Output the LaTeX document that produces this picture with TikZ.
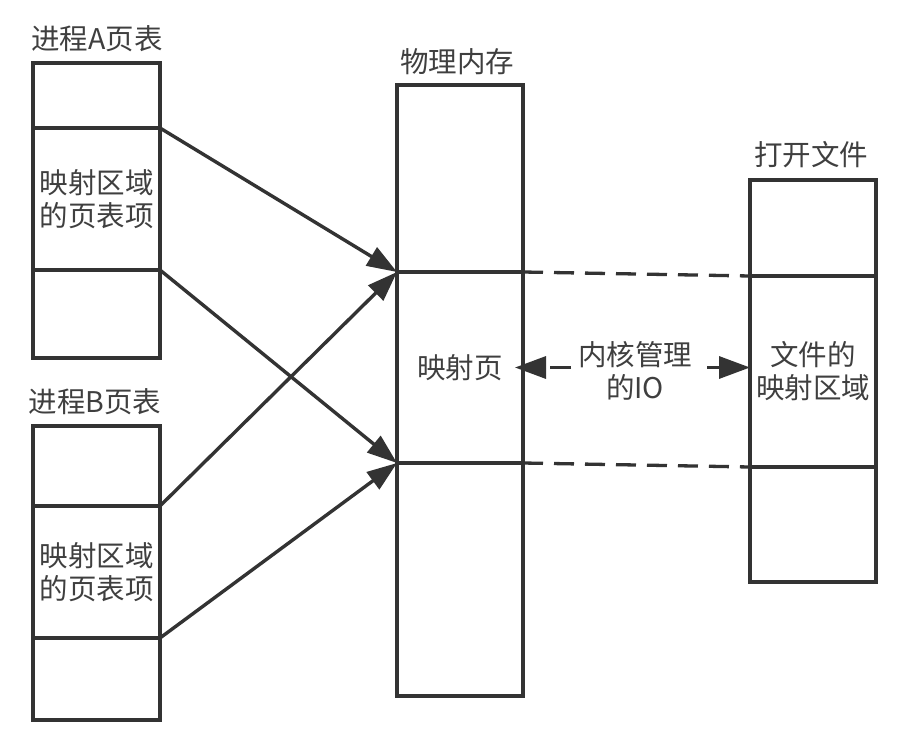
\documentclass[tikz,border=0pt]{standalone}
\usepackage{fontspec}
\setmainfont{Noto Sans CJK SC}
\usetikzlibrary{arrows.meta,positioning}
\definecolor{linegray}{HTML}{333333}
\definecolor{textgray}{HTML}{3F3F3F}

\tikzset{
Cell/.style={draw=linegray, rectangle, inner sep=0pt, outer sep=0pt,
        minimum width=127pt, line width=3.3pt, text=textgray, align=center,
        font=\fontsize{28.5}{33}\selectfont},
TableTittle/.style={text=textgray, inner sep=0pt, font=\fontsize{28.5}{33}\selectfont},
MapLine/.style={arrows={-Triangle[length=30pt,width=21pt]},draw=linegray,line width=3.4pt},
FileLine/.style={draw=linegray,line width=3.3pt,dash pattern=on 20pt off 11pt},
IOLine/.style={arrows={-Triangle[length=31pt,width=22pt]},draw=linegray,line width=3.3pt,dash pattern=on 21pt off 4pt},
}

\begin{document}
\begin{tikzpicture}[x=1pt,y=1pt]
	\useasboundingbox (0,0) rectangle (917,-738);
	% process page tables
	\node[Cell, minimum height=65pt]  (A1) at (96.5,-95.5) {};
	\node[Cell, minimum height=142pt] (A2) at (96.5,-199) {映射区域\\的页表项};
	\node[Cell, minimum height=88pt]  (A3) at (96.5,-314) {};
	\node[Cell, minimum height=80pt]  (B1) at (96.5,-466) {};
	\node[Cell, minimum height=132pt] (B2) at (96.5,-572) {映射区域\\的页表项};
	\node[Cell, minimum height=82pt]  (B3) at (96.5,-679) {};
	% physical memory
	\node[Cell, minimum width=126pt, minimum height=187pt] (M1) at (460,-178.5) {};
	\node[Cell, minimum width=126pt, minimum height=191pt] (M2) at (460,-367.5) {映射页};
	\node[Cell, minimum width=126pt, minimum height=233pt] (M3) at (460,-579.5) {};
	% opened file
	\node[Cell, minimum width=126pt, minimum height=96pt]  (F1) at (813,-228) {};
	\node[Cell, minimum width=126pt, minimum height=191pt] (F2) at (813,-371.5) {文件的\\映射区域};
	\node[Cell, minimum width=126pt, minimum height=115pt] (F3) at (813,-524.5) {};

	\node[TableTittle] (TA) at (97,-39)  {进程A页表};
	\node[TableTittle] (TB) at (95,-402) {进程B页表};
	\node[TableTittle] (TM) at (457,-62) {物理内存};
	\node[TableTittle] (TF) at (811,-155) {打开文件};

	\draw[MapLine] (A2.north east) -- (M2.north west);
	\draw[MapLine] (A2.south east) -- (M2.south west);
	\draw[MapLine] (B2.north east) -- (M2.north west);
	\draw[MapLine] (B2.south east) -- (M2.south west);

	\draw[FileLine] (M2.north east) -- (F2.north west);
	\draw[FileLine] (M2.south east) -- (F2.south west);

	\node[Cell, draw=none, minimum width=0pt, inner sep=2pt] (IO) at (635,-371) {内核管理\\的IO};
	\draw[IOLine, shorten <=5pt, shorten >=-8pt] (IO.west |- M2.east) -- (M2.east);
	\draw[IOLine, shorten <=13pt] (IO.east |- M2.east) -- (F2.west |- M2.east);
\end{tikzpicture}
\end{document}
